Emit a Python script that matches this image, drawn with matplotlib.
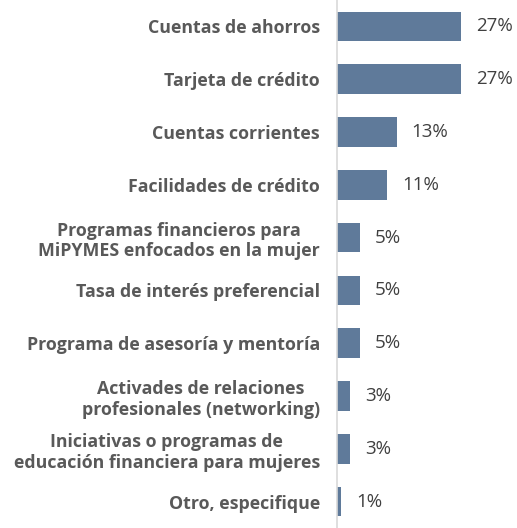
import matplotlib
matplotlib.use("Agg")
import matplotlib.pyplot as plt

categories = [
    "Cuentas de ahorros",
    "Tarjeta de crédito",
    "Cuentas corrientes",
    "Facilidades de crédito",
    "Programas financieros para\nMiPYMES enfocados en la mujer",
    "Tasa de interés preferencial",
    "Programa de asesoría y mentoría",
    "Activades de relaciones\nprofesionales (networking)",
    "Iniciativas o programas de\neducación financiera para mujeres",
    "Otro, especifique",
]
values = [27, 27, 13, 11, 5, 5, 5, 3, 3, 1]
labels = ["27%", "27%", "13%", "11%", "5%", "5%", "5%", "3%", "3%", "1%"]

fig = plt.figure(figsize=(5.17, 5.28), dpi=100)
ax = fig.add_axes([0.651, 0.0, 0.349, 1.0])
y = list(range(len(categories)))
ax.barh(y, values, height=0.56, color="#5F7A9A")
ax.set_ylim(len(categories) - 0.5, -0.5)
ax.set_xlim(0, 39)
for s in ["top", "right", "bottom"]:
    ax.spines[s].set_visible(False)
ax.spines["left"].set_color("#D9D9D9")
ax.spines["left"].set_linewidth(1.2)
ax.set_xticks([])
ax.set_yticks(y)
ax.set_yticklabels(categories, fontsize=12.8, fontweight="bold", color="#595959",
                   family="Open Sans", linespacing=1.2)
for t in ax.get_yticklabels():
    t.set_multialignment("center")
ax.tick_params(axis="y", length=0, pad=12)
for v, yy, lab in zip(values, y, labels):
    ax.annotate(lab, (v, yy), xytext=(15, 0), textcoords="offset pixels",
                va="center", ha="left", fontsize=13.5, color="#404040", family="Open Sans")
fig.savefig("out.png", dpi=100)
